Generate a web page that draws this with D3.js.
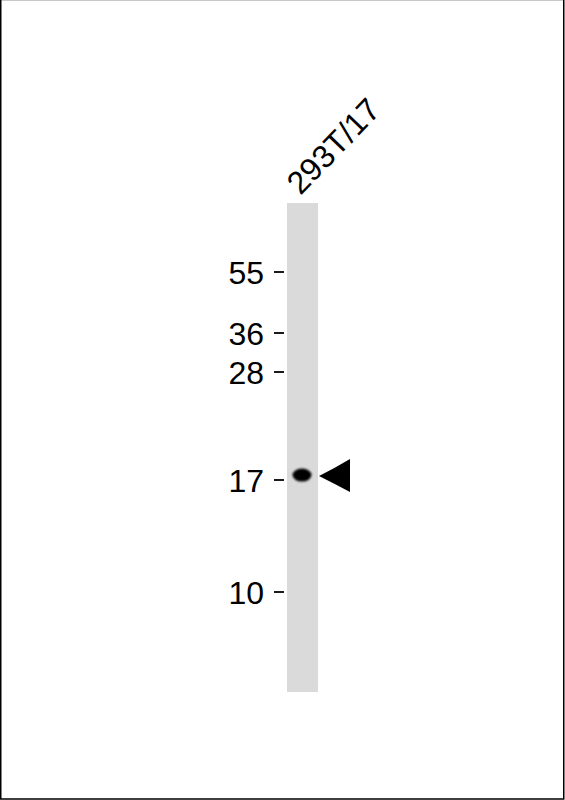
<!DOCTYPE html>
<html>
<head>
<meta charset="utf-8">
<script src="https://cdn.jsdelivr.net/npm/d3@7.9.0/dist/d3.min.js"></script>
<style>
  html, body { margin: 0; padding: 0; background: #fff; }
  svg { display: block; }
  text { font-family: "Liberation Sans", Arial, sans-serif; fill: #000; }
</style>
</head>
<body>
<svg id="blot" width="565" height="800"></svg>
<script>
// lanes and marker ladder
const lanes = ["293T/17"];
const markerKDa = [55, 36, 28, 17, 10];
const markerLabels = ["55", "36", "28", "17", "10"];

// detected bands
const bandLane = ["293T/17"];
const bandKDa = [17.5];
const bandIntensity = [1];

// arrow points at this band
const arrowKDa = [17.5];

const width = 565, height = 800;
const svg = d3.select("#blot");

// gel layout
const laneTop = 203, laneBottom = 692;
const laneWidth = 31;

// marker migration is not log-linear on this gel, so use a piecewise scale
const y = d3.scaleLinear()
    .domain(markerKDa)
    .range([272, 333, 372, 480, 592]);

const x = d3.scaleBand()
    .domain(lanes)
    .range([287, 287 + laneWidth * lanes.length])
    .padding(0);

// frame
svg.append("line").attr("x1", 0.5).attr("x2", width - 1.5).attr("y1", 0.5).attr("y2", 0.5)
    .attr("stroke", "#c8c8c8").attr("stroke-width", 1);
svg.append("path")
    .attr("d", `M0.75,0 V${height - 1} H${width - 1.25} V0`)
    .attr("fill", "none").attr("stroke", "#000").attr("stroke-width", 1.5);

// blur for the bands
const defs = svg.append("defs");
defs.append("filter").attr("id", "soft")
    .attr("x", "-50%").attr("y", "-50%").attr("width", "200%").attr("height", "200%")
  .append("feGaussianBlur").attr("stdDeviation", 1.3);

// lanes
svg.selectAll("rect.lane")
    .data(lanes)
    .enter()
    .append("rect")
    .attr("class", "lane")
    .attr("x", d => x(d))
    .attr("y", laneTop)
    .attr("width", x.bandwidth())
    .attr("height", laneBottom - laneTop)
    .attr("fill", "#dadada");

// lane labels
svg.selectAll("text.laneLabel")
    .data(lanes)
    .enter()
    .append("text")
    .attr("class", "laneLabel")
    .attr("transform", d => `translate(${x(d) + x.bandwidth() / 2 - 2},196) rotate(-46)`)
    .attr("font-size", 32)
    .text(d => d);

// marker ticks and labels
const markers = svg.selectAll("g.marker")
    .data(markerKDa)
    .enter()
    .append("g")
    .attr("class", "marker")
    .attr("transform", d => `translate(0,${y(d)})`);

markers.append("line")
    .attr("x1", 274).attr("x2", 284)
    .attr("stroke", "#000").attr("stroke-width", 1.8);

markers.append("text")
    .attr("x", 264)
    .attr("dy", "0.36em")
    .attr("text-anchor", "end")
    .attr("font-size", 32)
    .text((d, i) => markerLabels[i]);

// bands
const bands = bandLane.map((lane, i) => ({ lane, kDa: bandKDa[i], intensity: bandIntensity[i] }));
svg.selectAll("ellipse.band")
    .data(bands)
    .enter()
    .append("ellipse")
    .attr("class", "band")
    .attr("cx", d => x(d.lane) + x.bandwidth() / 2 - 0.5)
    .attr("cy", d => y(d.kDa))
    .attr("rx", 9.5)
    .attr("ry", 6.5)
    .attr("fill", "#000")
    .attr("opacity", d => d.intensity)
    .attr("filter", "url(#soft)");

// arrowhead
const laneRight = x(lanes[lanes.length - 1]) + x.bandwidth();
svg.selectAll("path.arrow")
    .data(arrowKDa)
    .enter()
    .append("path")
    .attr("class", "arrow")
    .attr("d", d => {
        const cy = y(d) + 1;
        const tip = laneRight + 1;
        return `M${tip},${cy} Q${tip + 16},${cy - 8} ${tip + 31},${cy - 17}` +
               ` L${tip + 31},${cy + 16} Q${tip + 16},${cy + 8} ${tip},${cy} Z`;
    })
    .attr("fill", "#000");
</script>
</body>
</html>
